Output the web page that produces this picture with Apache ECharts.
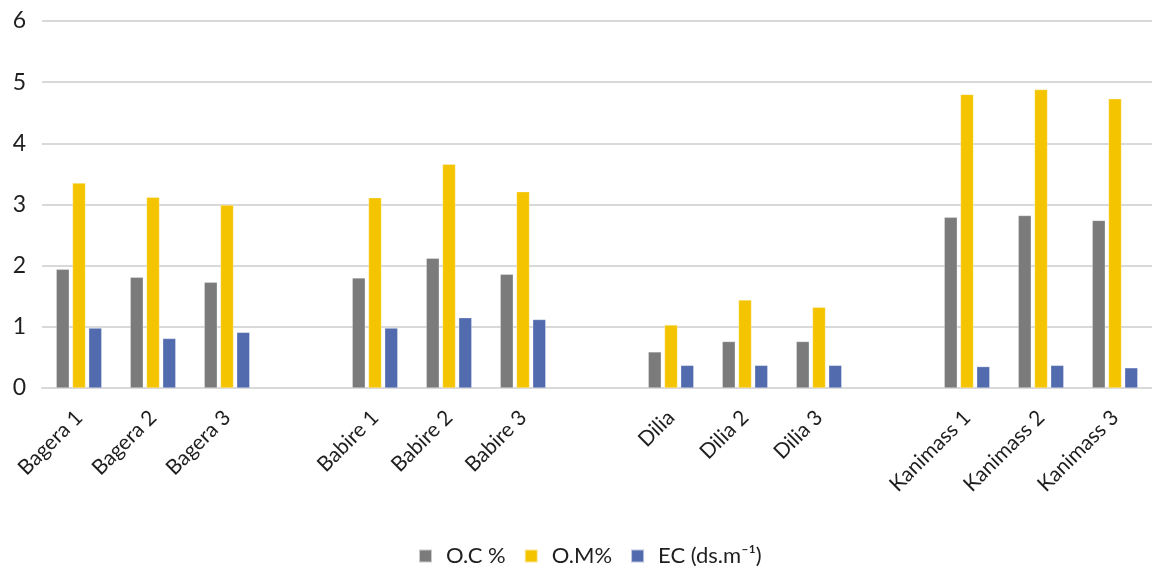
<!DOCTYPE html>
<html>
<head>
<meta charset="utf-8">
<script src="https://cdn.jsdelivr.net/npm/echarts@6/dist/echarts.min.js"></script>
<style>
html,body{margin:0;padding:0;background:#fff;}
#chart{width:1152px;height:572px;}
</style>
</head>
<body>
<div id="chart"></div>
<script>
// sites, with empty slots separating the groups
var categories = ['Bagera 1','Bagera 2','Bagera 3','',
                  'Babire 1','Babire 2','Babire 3','',
                  'Dilia','Dilia 2','Dilia 3','',
                  'Kanimass 1','Kanimass 2','Kanimass 3'];
var ocValues = [1.94,1.81,1.73,null, 1.80,2.12,1.86,null, 0.59,0.76,0.76,null, 2.79,2.82,2.74];
var omValues = [3.35,3.12,2.99,null, 3.11,3.66,3.21,null, 1.03,1.44,1.32,null, 4.80,4.88,4.73];
var ecValues = [0.98,0.81,0.91,null, 0.98,1.15,1.12,null, 0.37,0.37,0.37,null, 0.35,0.37,0.33];
var seriesNames = ['O.C %','O.M%','EC (ds.m\u207B\u00B9)'];
var colors = ['#7b7b7b','#f4c400','#526baf'];

var myChart = echarts.init(document.getElementById('chart'));

function bar(name, data, color){
    return {
        name: name,
        type: 'bar',
        data: data,
        barWidth: 13,
        barGap: '25%',
        itemStyle: {color: color, borderColor: 'rgba(255,255,255,0.6)', borderWidth: 0.5}
    };
}

var option = {
    animation: false,
    textStyle: {fontFamily: 'Lato'},
    color: colors,
    grid: {left: 42, top: 21, width: 1117, bottom: 184},
    legend: {
        left: 413,
        top: 540,
        itemWidth: 13,
        itemHeight: 13,
        itemGap: 18,
        icon: 'rect',
        textStyle: {fontSize: 22, color: '#1f1f1f', padding: [0,0,0,9]},
        data: seriesNames
    },
    xAxis: {
        type: 'category',
        data: categories,
        axisLine: {lineStyle: {color: '#d9d9d9', width: 2}},
        axisTick: {show: false},
        axisLabel: {rotate: 45, fontSize: 21, color: '#1f1f1f', margin: 26, interval: 0}
    },
    yAxis: {
        type: 'value',
        min: 0,
        max: 6,
        interval: 1,
        axisLine: {show: false},
        axisTick: {show: false},
        splitLine: {lineStyle: {color: '#d9d9d9', width: 2}},
        axisLabel: {fontSize: 23, color: '#1f1f1f', margin: 16}
    },
    series: [
        bar(seriesNames[0], ocValues, colors[0]),
        bar(seriesNames[1], omValues, colors[1]),
        bar(seriesNames[2], ecValues, colors[2])
    ]
};
myChart.setOption(option);
</script>
</body>
</html>
